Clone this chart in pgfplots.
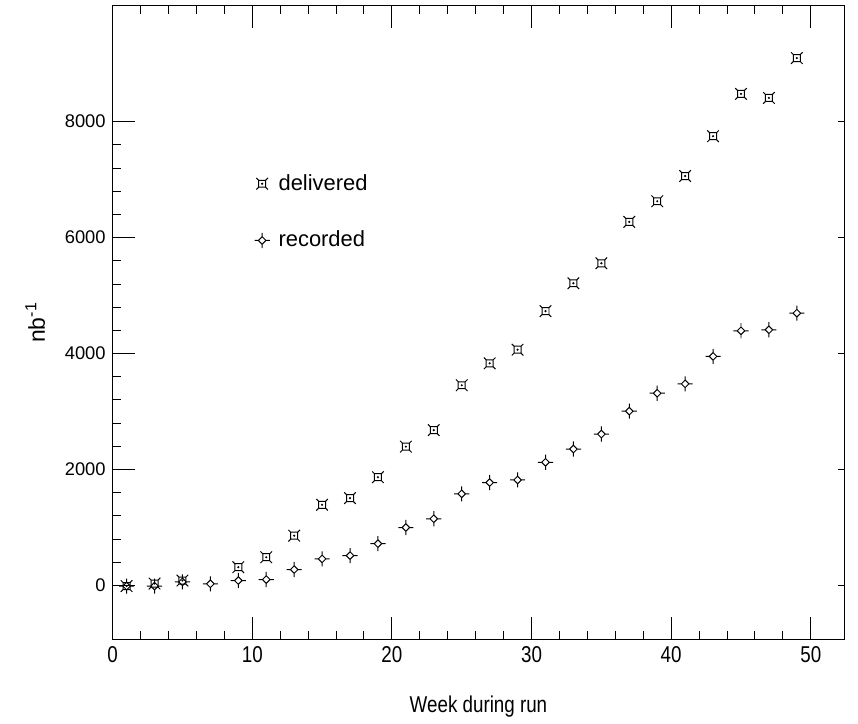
\documentclass[border=0pt]{standalone}
\usepackage{fontspec}
\setmainfont{Liberation Sans}
\newfontfamily\narrowfont[FakeStretch=0.82]{Liberation Sans}
\usepackage{pgfplots}
\pgfplotsset{compat=1.18}

\pgfdeclareplotmark{delsq}{%
  \pgfpathrectangle{\pgfpoint{-1.75pt}{-1.75pt}}{\pgfpoint{3.5pt}{3.5pt}}%
  \pgfpathmoveto{\pgfpoint{1.75pt}{1.75pt}}\pgfpathlineto{\pgfpoint{2.9pt}{2.9pt}}%
  \pgfpathmoveto{\pgfpoint{-1.75pt}{1.75pt}}\pgfpathlineto{\pgfpoint{-2.9pt}{2.9pt}}%
  \pgfpathmoveto{\pgfpoint{1.75pt}{-1.75pt}}\pgfpathlineto{\pgfpoint{2.9pt}{-2.9pt}}%
  \pgfpathmoveto{\pgfpoint{-1.75pt}{-1.75pt}}\pgfpathlineto{\pgfpoint{-2.9pt}{-2.9pt}}%
  \pgfpathcircle{\pgfpointorigin}{0.25pt}%
  \pgfusepathqstroke
}
\pgfdeclareplotmark{recdi}{%
  \pgfpathmoveto{\pgfpoint{0pt}{1.9pt}}%
  \pgfpathlineto{\pgfpoint{1.9pt}{0pt}}%
  \pgfpathlineto{\pgfpoint{0pt}{-1.9pt}}%
  \pgfpathlineto{\pgfpoint{-1.9pt}{0pt}}%
  \pgfpathclose
  \pgfpathmoveto{\pgfpoint{0pt}{1.9pt}}\pgfpathlineto{\pgfpoint{0pt}{3.8pt}}%
  \pgfpathmoveto{\pgfpoint{0pt}{-1.9pt}}\pgfpathlineto{\pgfpoint{0pt}{-3.8pt}}%
  \pgfpathmoveto{\pgfpoint{1.9pt}{0pt}}\pgfpathlineto{\pgfpoint{3.8pt}{0pt}}%
  \pgfpathmoveto{\pgfpoint{-1.9pt}{0pt}}\pgfpathlineto{\pgfpoint{-3.8pt}{0pt}}%
  \pgfusepathqstroke
}

\begin{document}
\begin{tikzpicture}
\begin{axis}[
  scale only axis, width=367.3pt, height=318pt,
  xmin=0, xmax=52.4, ymin=-925, ymax=10000,
  xtick={0,10,...,50}, ytick={0,2000,...,8000},
  minor x tick num=4, minor y tick num=4,
  tick align=inside, xtick pos=both, ytick pos=left,
  major tick length=11pt, minor tick length=4pt,
  tick style={black, line width=0.5pt},
  axis line style={line width=0.6pt},
  scaled y ticks=false,
  /pgf/number format/1000 sep={},
  /pgf/number format/assume math mode=true,
  yticklabel style={font=\fontsize{9.2}{11}\selectfont},
  xticklabel style={font=\fontsize{11.5}{13}\narrowfont},
  xlabel={Week during run},
  xlabel style={font=\fontsize{11.5}{13}\narrowfont, yshift=-10pt},
  ylabel={nb\textsuperscript{-1}},
  ylabel style={font=\fontsize{11.5}{13}\selectfont, yshift=3pt},
  legend style={draw=none, fill=none, at={(axis cs:9.0,6440)}, anchor=west,
    font=\fontsize{11}{13}\selectfont, row sep=15pt},
  legend cell align=left,
  legend image code/.code={\draw[mark repeat=2,mark phase=2,#1] plot coordinates {(0cm,0cm)(0.3cm,0cm)(0.6cm,0cm)};\path (0cm,0cm) (0.51cm,0cm);},
]
\addplot[only marks, mark=delsq, black, line width=0.5pt] coordinates {
(1,-10) (3,34) (5,86) (9,316) (11,488) (13,859) (15,1392) (17,1507) (19,1868)
(21,2395) (23,2680) (25,3454) (27,3832) (29,4067) (31,4732) (33,5213) (35,5557)
(37,6272) (39,6627) (41,7062) (43,7749) (45,8478) (47,8409) (49,9096)};
\addlegendentry{delivered}
\addplot[only marks, mark=recdi, black, line width=0.5pt] coordinates {
(1,-10) (3,-10) (5,63) (7,29) (9,86) (11,103) (13,275) (15,459) (17,516) (19,722)
(21,1000) (23,1151) (25,1581) (27,1776) (29,1821) (31,2125) (33,2354) (35,2612)
(37,3007) (39,3316) (41,3478) (43,3952) (45,4393) (47,4410) (49,4697)};
\addlegendentry{recorded}
\end{axis}
\begin{axis}[
  scale only axis, width=367.3pt, height=318pt,
  xmin=0, xmax=52.4, ymin=-925, ymax=10000,
  xtick=\empty, ytick={0,2000,...,8000}, yticklabels={},
  scaled y ticks=false, scaled x ticks=false,
  tick align=inside, ytick pos=right,
  major tick length=3pt, tick style={black, line width=0.5pt},
  axis line style={draw=none},
]
\end{axis}
\path ([shift={(-56.55pt,-37.65pt)}]current axis.south west) rectangle ++(429pt,358.5pt);
\end{tikzpicture}
\end{document}
